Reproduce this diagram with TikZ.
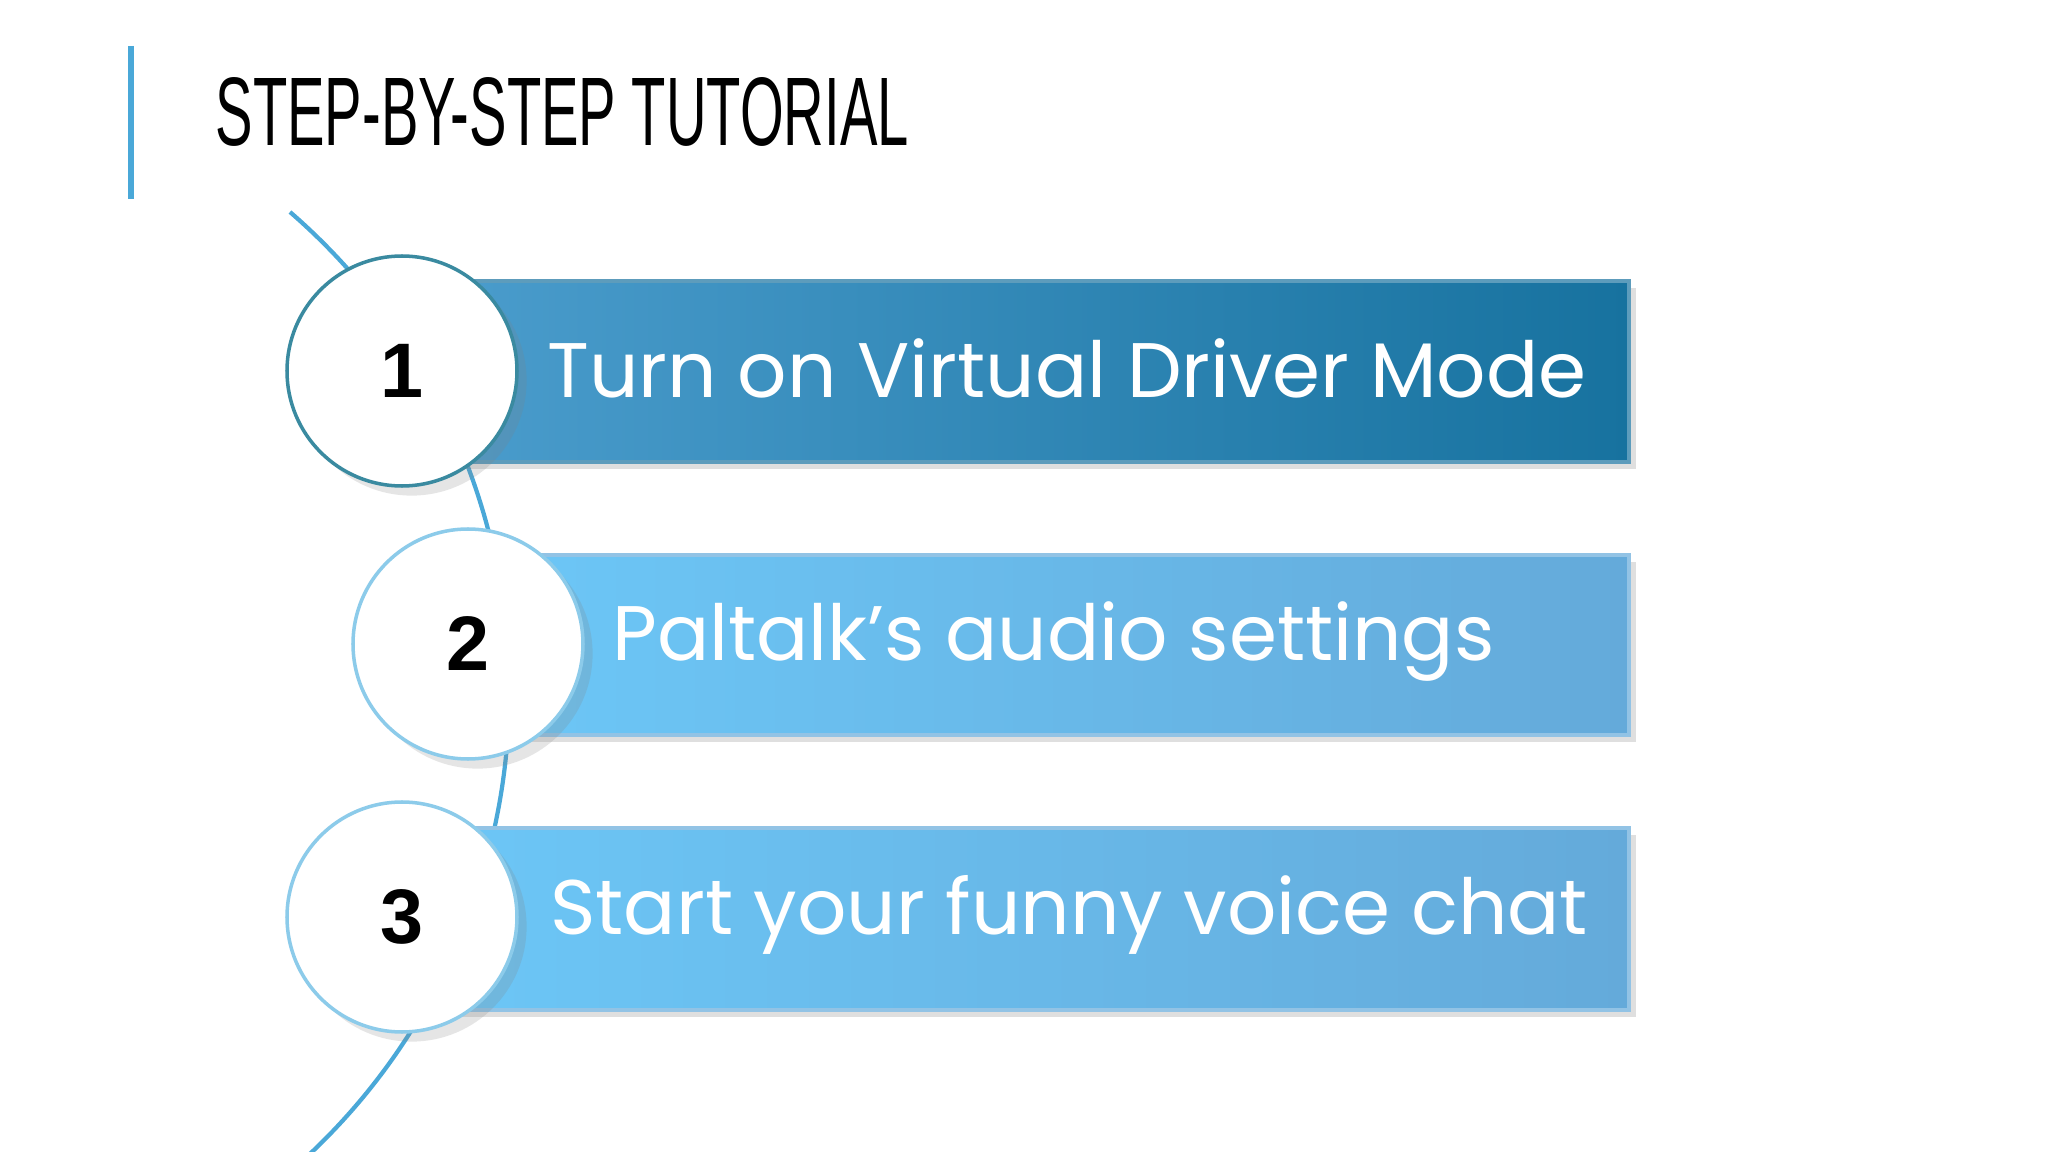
\documentclass[tikz,border=0pt]{standalone}
\usepackage{fontspec}
\setmainfont{Poppins}
\newfontfamily\titlefont{Liberation Sans}
\usetikzlibrary{shadows}
\definecolor{arcblue}{HTML}{4AA8D8}
\definecolor{aL}{HTML}{4A9CCC}
\definecolor{aR}{HTML}{17729F}
\definecolor{bL}{HTML}{6CC6F6}
\definecolor{bR}{HTML}{64AADA}
\definecolor{cA}{HTML}{3A8AA0}
\definecolor{cB}{HTML}{8CCBEA}
\tikzset{
 barA/.style 2 args={left color=#1,right color=#2,draw=#2!70!white,line width=1pt,drop shadow={opacity=0.25,shadow xshift=2pt,shadow yshift=-2pt}},
 numc/.style={circle,fill=white,draw=#1,line width=1pt,minimum size=2.3cm,font=\titlefont\bfseries\fontsize{22}{24}\selectfont,drop shadow={opacity=0.2}},
 bartext/.style={anchor=west,text=white,font=\fontsize{22}{26}\selectfont}
}
\begin{document}
\begin{tikzpicture}[x=1cm,y=-1cm]
\useasboundingbox[fill=white] (0,0) rectangle (20.48,11.52);
\draw[arcblue,line width=1.5pt] (1.31,0.46) -- (1.31,1.99);
\node[anchor=west,inner sep=0] (title) at (2.15,1.12) {\titlefont\resizebox{6.93cm}{0.68cm}{STEP-BY-STEP TUTORIAL}};
\draw[arcblue,line width=1.2pt] (2.90,2.12) arc[start angle=-49.1,end angle=49.1,radius=6.35];
\path[barA={aL}{aR}] (4.51,2.81) rectangle (16.29,4.62);
\path[barA={bL}{bR}] (5.16,5.55) rectangle (16.29,7.35);
\path[barA={bL}{bR}] (4.51,8.28) rectangle (16.29,10.10);
\node[numc=cA] (c1) at (4.02,3.71) {1};
\node[numc=cB] (c2) at (4.68,6.44) {2};
\node[numc=cB] (c3) at (4.02,9.17) {3};
\node[bartext] (t1) at (5.35,3.68) {Turn on Virtual Driver Mode};
\node[bartext] (t2) at (6.00,6.42) {Paltalk’s audio settings};
\node[bartext] (t3) at (5.38,9.15) {Start your funny voice chat};
\end{tikzpicture}
\end{document}
